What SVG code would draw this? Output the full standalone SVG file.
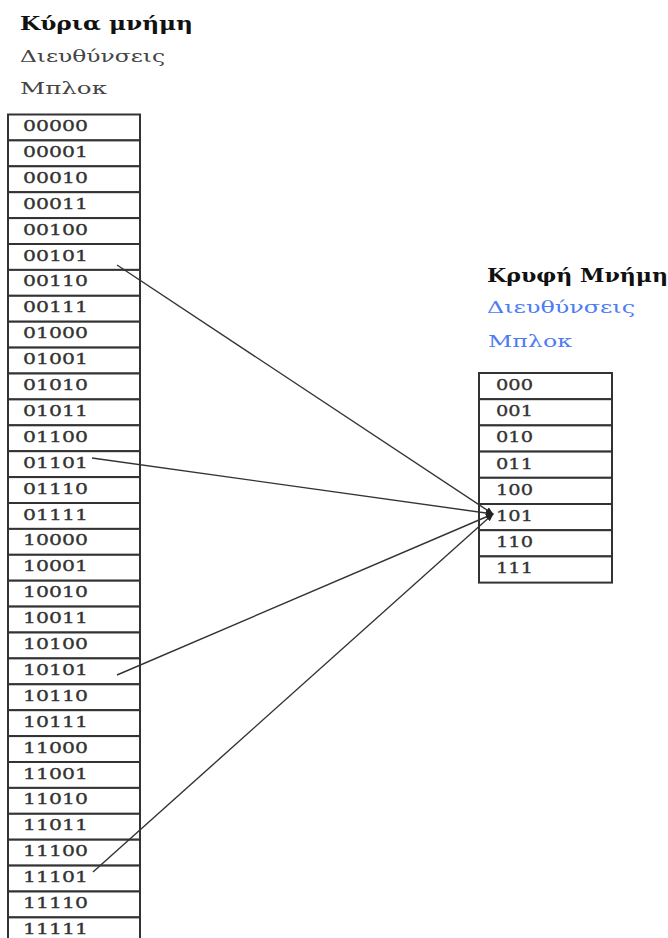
<svg xmlns="http://www.w3.org/2000/svg" width="668" height="938" viewBox="0 0 668 938">
<style>
.cell{fill:#fff;stroke:#333;stroke-width:2}
.lbl{font-family:"DejaVu Serif","Liberation Serif",serif;font-size:15px;fill:#333;stroke:#333;stroke-width:0.3}
.hd{font-family:"DejaVu Serif","Liberation Serif",serif;font-weight:bold;font-size:18px;fill:#111}
.sub{font-family:"DejaVu Serif","Liberation Serif",serif;font-size:17px;fill:#444}
.blue{fill:#4d7cf5}
.conn{fill:none;stroke:#333;stroke-width:1.4}
</style>
<defs>
<marker id="ah" viewBox="0 0 10 10" refX="9" refY="5" markerWidth="8" markerHeight="8" orient="auto" markerUnits="userSpaceOnUse">
<path d="M0,1 L10,5 L0,9 z" fill="#222"/>
</marker>
</defs>
<rect width="668" height="938" fill="#fff"/>
<g id="main-title">
<text class="hd" x="20" y="30" textLength="173" lengthAdjust="spacingAndGlyphs">Κύρια μνήμη</text>
<text class="sub" x="20" y="62" textLength="145" lengthAdjust="spacingAndGlyphs">Διευθύνσεις</text>
<text class="sub" x="20" y="94" textLength="87" lengthAdjust="spacingAndGlyphs">Μπλοκ</text>
</g>
<g id="cache-title">
<text class="hd" x="487" y="282" textLength="181" lengthAdjust="spacingAndGlyphs">Κρυφή Μνήμη</text>
<text class="sub blue" x="487" y="313" textLength="148" lengthAdjust="spacingAndGlyphs">Διευθύνσεις</text>
<text class="sub blue" x="488" y="347" textLength="84" lengthAdjust="spacingAndGlyphs">Μπλοκ</text>
</g>
<g id="main-memory">
<g id="m00000"><rect class="cell" x="8" y="114.5" width="132" height="25.9"/><text class="lbl" x="23" y="131" textLength="65" lengthAdjust="spacingAndGlyphs">00000</text></g>
<g id="m00001"><rect class="cell" x="8" y="140.4" width="132" height="25.9"/><text class="lbl" x="23" y="156.9" textLength="65" lengthAdjust="spacingAndGlyphs">00001</text></g>
<g id="m00010"><rect class="cell" x="8" y="166.3" width="132" height="25.9"/><text class="lbl" x="23" y="182.8" textLength="65" lengthAdjust="spacingAndGlyphs">00010</text></g>
<g id="m00011"><rect class="cell" x="8" y="192.2" width="132" height="25.9"/><text class="lbl" x="23" y="208.7" textLength="65" lengthAdjust="spacingAndGlyphs">00011</text></g>
<g id="m00100"><rect class="cell" x="8" y="218.1" width="132" height="25.9"/><text class="lbl" x="23" y="234.6" textLength="65" lengthAdjust="spacingAndGlyphs">00100</text></g>
<g id="m00101"><rect class="cell" x="8" y="244" width="132" height="25.9"/><text class="lbl" x="23" y="260.5" textLength="65" lengthAdjust="spacingAndGlyphs">00101</text></g>
<g id="m00110"><rect class="cell" x="8" y="269.9" width="132" height="25.9"/><text class="lbl" x="23" y="286.4" textLength="65" lengthAdjust="spacingAndGlyphs">00110</text></g>
<g id="m00111"><rect class="cell" x="8" y="295.8" width="132" height="25.9"/><text class="lbl" x="23" y="312.3" textLength="65" lengthAdjust="spacingAndGlyphs">00111</text></g>
<g id="m01000"><rect class="cell" x="8" y="321.7" width="132" height="25.9"/><text class="lbl" x="23" y="338.2" textLength="65" lengthAdjust="spacingAndGlyphs">01000</text></g>
<g id="m01001"><rect class="cell" x="8" y="347.6" width="132" height="25.9"/><text class="lbl" x="23" y="364.1" textLength="65" lengthAdjust="spacingAndGlyphs">01001</text></g>
<g id="m01010"><rect class="cell" x="8" y="373.5" width="132" height="25.9"/><text class="lbl" x="23" y="390" textLength="65" lengthAdjust="spacingAndGlyphs">01010</text></g>
<g id="m01011"><rect class="cell" x="8" y="399.4" width="132" height="25.9"/><text class="lbl" x="23" y="415.9" textLength="65" lengthAdjust="spacingAndGlyphs">01011</text></g>
<g id="m01100"><rect class="cell" x="8" y="425.3" width="132" height="25.9"/><text class="lbl" x="23" y="441.8" textLength="65" lengthAdjust="spacingAndGlyphs">01100</text></g>
<g id="m01101"><rect class="cell" x="8" y="451.2" width="132" height="25.9"/><text class="lbl" x="23" y="467.7" textLength="65" lengthAdjust="spacingAndGlyphs">01101</text></g>
<g id="m01110"><rect class="cell" x="8" y="477.1" width="132" height="25.9"/><text class="lbl" x="23" y="493.6" textLength="65" lengthAdjust="spacingAndGlyphs">01110</text></g>
<g id="m01111"><rect class="cell" x="8" y="503" width="132" height="25.9"/><text class="lbl" x="23" y="519.5" textLength="65" lengthAdjust="spacingAndGlyphs">01111</text></g>
<g id="m10000"><rect class="cell" x="8" y="528.9" width="132" height="25.9"/><text class="lbl" x="23" y="545.4" textLength="65" lengthAdjust="spacingAndGlyphs">10000</text></g>
<g id="m10001"><rect class="cell" x="8" y="554.8" width="132" height="25.9"/><text class="lbl" x="23" y="571.3" textLength="65" lengthAdjust="spacingAndGlyphs">10001</text></g>
<g id="m10010"><rect class="cell" x="8" y="580.7" width="132" height="25.9"/><text class="lbl" x="23" y="597.2" textLength="65" lengthAdjust="spacingAndGlyphs">10010</text></g>
<g id="m10011"><rect class="cell" x="8" y="606.6" width="132" height="25.9"/><text class="lbl" x="23" y="623.1" textLength="65" lengthAdjust="spacingAndGlyphs">10011</text></g>
<g id="m10100"><rect class="cell" x="8" y="632.5" width="132" height="25.9"/><text class="lbl" x="23" y="649" textLength="65" lengthAdjust="spacingAndGlyphs">10100</text></g>
<g id="m10101"><rect class="cell" x="8" y="658.4" width="132" height="25.9"/><text class="lbl" x="23" y="674.9" textLength="65" lengthAdjust="spacingAndGlyphs">10101</text></g>
<g id="m10110"><rect class="cell" x="8" y="684.3" width="132" height="25.9"/><text class="lbl" x="23" y="700.8" textLength="65" lengthAdjust="spacingAndGlyphs">10110</text></g>
<g id="m10111"><rect class="cell" x="8" y="710.2" width="132" height="25.9"/><text class="lbl" x="23" y="726.7" textLength="65" lengthAdjust="spacingAndGlyphs">10111</text></g>
<g id="m11000"><rect class="cell" x="8" y="736.1" width="132" height="25.9"/><text class="lbl" x="23" y="752.6" textLength="65" lengthAdjust="spacingAndGlyphs">11000</text></g>
<g id="m11001"><rect class="cell" x="8" y="762" width="132" height="25.9"/><text class="lbl" x="23" y="778.5" textLength="65" lengthAdjust="spacingAndGlyphs">11001</text></g>
<g id="m11010"><rect class="cell" x="8" y="787.9" width="132" height="25.9"/><text class="lbl" x="23" y="804.4" textLength="65" lengthAdjust="spacingAndGlyphs">11010</text></g>
<g id="m11011"><rect class="cell" x="8" y="813.8" width="132" height="25.9"/><text class="lbl" x="23" y="830.3" textLength="65" lengthAdjust="spacingAndGlyphs">11011</text></g>
<g id="m11100"><rect class="cell" x="8" y="839.7" width="132" height="25.9"/><text class="lbl" x="23" y="856.2" textLength="65" lengthAdjust="spacingAndGlyphs">11100</text></g>
<g id="m11101"><rect class="cell" x="8" y="865.6" width="132" height="25.9"/><text class="lbl" x="23" y="882.1" textLength="65" lengthAdjust="spacingAndGlyphs">11101</text></g>
<g id="m11110"><rect class="cell" x="8" y="891.5" width="132" height="25.9"/><text class="lbl" x="23" y="908" textLength="65" lengthAdjust="spacingAndGlyphs">11110</text></g>
<g id="m11111"><rect class="cell" x="8" y="917.4" width="132" height="25.9"/><text class="lbl" x="23" y="933.9" textLength="65" lengthAdjust="spacingAndGlyphs">11111</text></g>
</g>
<g id="cache">
<g id="c000"><rect class="cell" x="479" y="373" width="133" height="26.2"/><text class="lbl" x="496" y="390" textLength="37" lengthAdjust="spacingAndGlyphs">000</text></g>
<g id="c001"><rect class="cell" x="479" y="399.2" width="133" height="26.2"/><text class="lbl" x="496" y="416.2" textLength="37" lengthAdjust="spacingAndGlyphs">001</text></g>
<g id="c010"><rect class="cell" x="479" y="425.4" width="133" height="26.2"/><text class="lbl" x="496" y="442.4" textLength="37" lengthAdjust="spacingAndGlyphs">010</text></g>
<g id="c011"><rect class="cell" x="479" y="451.6" width="133" height="26.2"/><text class="lbl" x="496" y="468.6" textLength="37" lengthAdjust="spacingAndGlyphs">011</text></g>
<g id="c100"><rect class="cell" x="479" y="477.8" width="133" height="26.2"/><text class="lbl" x="496" y="494.8" textLength="37" lengthAdjust="spacingAndGlyphs">100</text></g>
<g id="c101"><rect class="cell" x="479" y="504" width="133" height="26.2"/><text class="lbl" x="496" y="521" textLength="37" lengthAdjust="spacingAndGlyphs">101</text></g>
<g id="c110"><rect class="cell" x="479" y="530.2" width="133" height="26.2"/><text class="lbl" x="496" y="547.2" textLength="37" lengthAdjust="spacingAndGlyphs">110</text></g>
<g id="c111"><rect class="cell" x="479" y="556.4" width="133" height="26.2"/><text class="lbl" x="496" y="573.4" textLength="37" lengthAdjust="spacingAndGlyphs">111</text></g>
</g>
<g id="connectors">
<path class="conn" d="M117,265 L493,514" marker-end="url(#ah)"/>
<path class="conn" d="M92,458 L493,514" marker-end="url(#ah)"/>
<path class="conn" d="M117,675 L493,514" marker-end="url(#ah)"/>
<path class="conn" d="M93,872 L493,514" marker-end="url(#ah)"/>
</g>
</svg>
